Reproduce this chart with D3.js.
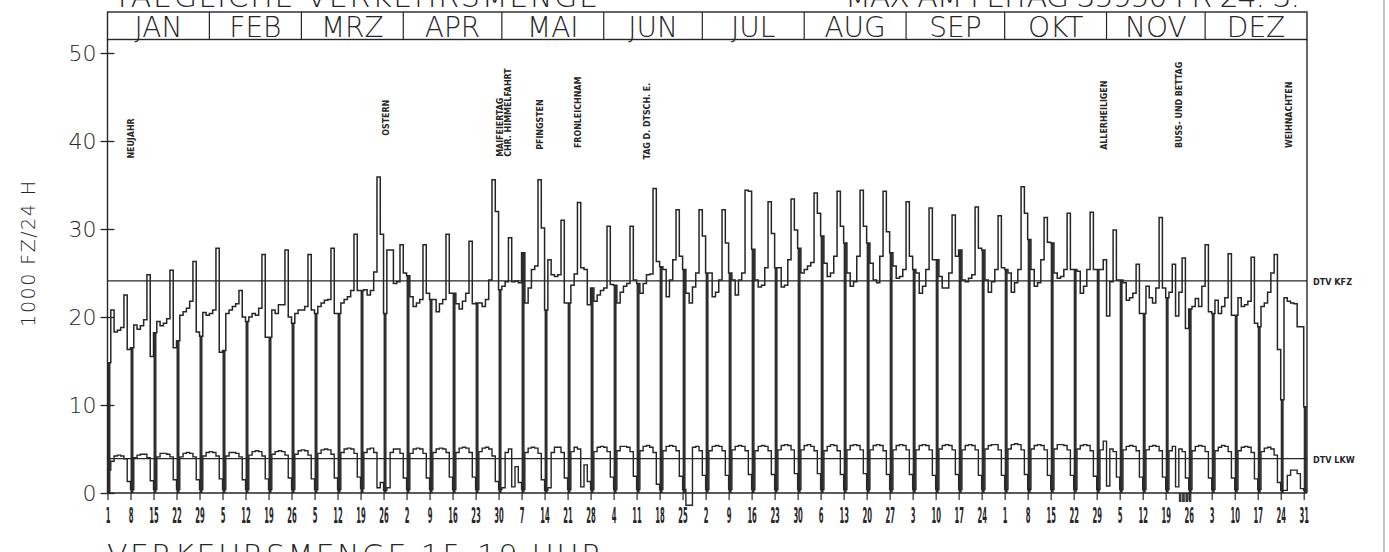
<!DOCTYPE html>
<html>
<head>
<meta charset="utf-8">
<script src="https://cdn.jsdelivr.net/npm/d3@7"></script>
<style>
body { margin: 0; background: #fff; }
svg { display: block; }
</style>
</head>
<body>
<svg id="chart" width="1389" height="552"></svg>
<script>
// daily traffic 1989, weeks start on sunday: [SO, MO, DI, MI, DO, FR, SA]
var kfzWeeks = [
    [14.8, 20.8, 18.3, 18.5, 18.8, 22.5, 16.3],
    [16.5, 19.1, 18.6, 19.0, 19.7, 24.8, 15.5],
    [18.2, 19.5, 19.0, 19.3, 19.8, 25.3, 16.5],
    [17.3, 20.2, 20.6, 21.0, 21.8, 26.3, 18.3],
    [17.8, 20.5, 20.2, 20.4, 20.8, 27.8, 16.0],
    [16.2, 20.4, 20.8, 21.2, 21.5, 23.0, 20.0],
    [19.5, 20.0, 20.4, 20.2, 21.0, 27.1, 17.7],
    [17.7, 20.8, 20.4, 21.4, 21.4, 27.6, 20.0],
    [19.3, 20.4, 20.8, 20.8, 21.2, 27.1, 20.8],
    [20.4, 21.2, 21.6, 21.9, 22.0, 27.8, 20.4],
    [20.4, 21.6, 22.0, 22.3, 23.0, 29.4, 23.0],
    [23.0, 23.1, 22.5, 23.0, 25.1, 35.9, 29.4],
    [20.4, 27.6, 27.6, 23.8, 24.0, 28.2, 25.0],
    [24.7, 22.3, 21.2, 21.6, 22.0, 28.2, 22.7],
    [22.0, 22.0, 20.6, 21.5, 22.0, 29.4, 22.7],
    [22.7, 21.5, 20.9, 21.8, 22.7, 28.6, 21.5],
    [21.6, 21.6, 21.2, 22.0, 24.2, 35.6, 32.0],
    [23.1, 23.5, 24.0, 29.0, 24.0, 24.1, 23.9],
    [27.3, 21.6, 23.3, 25.4, 25.8, 35.6, 30.1],
    [20.8, 26.5, 24.8, 24.6, 24.8, 31.0, 21.6],
    [21.6, 23.6, 24.9, 33.0, 25.6, 25.4, 21.4],
    [23.3, 21.8, 22.5, 23.0, 23.3, 30.3, 23.7],
    [23.6, 21.6, 22.8, 23.5, 23.8, 30.3, 24.2],
    [23.8, 22.7, 23.8, 24.8, 24.9, 34.6, 26.3],
    [25.7, 25.4, 22.3, 24.2, 26.5, 32.2, 26.9],
    [25.4, 22.7, 21.6, 23.4, 25.0, 32.2, 29.2],
    [25.0, 25.0, 22.3, 22.8, 24.2, 32.2, 28.4],
    [25.0, 24.2, 22.5, 24.2, 25.0, 34.4, 34.3],
    [27.7, 24.2, 23.4, 23.6, 25.6, 33.1, 29.5],
    [25.6, 25.6, 23.4, 23.6, 26.5, 33.4, 29.9],
    [27.8, 25.0, 25.4, 25.8, 26.2, 34.1, 31.8],
    [29.2, 26.1, 24.6, 25.0, 26.9, 34.3, 30.3],
    [28.4, 25.0, 23.5, 24.0, 26.9, 34.4, 30.3],
    [28.4, 26.1, 24.2, 23.9, 26.9, 34.3, 29.7],
    [27.3, 25.8, 24.4, 24.6, 25.4, 33.1, 26.9],
    [25.4, 25.0, 22.7, 23.5, 25.4, 32.4, 26.5],
    [26.5, 24.6, 23.3, 23.3, 25.0, 31.6, 26.9],
    [27.6, 24.2, 24.0, 24.4, 24.8, 32.5, 27.8],
    [27.6, 24.2, 22.8, 24.0, 25.4, 31.5, 25.6],
    [25.4, 25.0, 22.8, 23.9, 25.4, 34.8, 31.8],
    [28.8, 25.4, 23.5, 23.9, 26.5, 31.3, 28.5],
    [28.4, 25.0, 24.4, 24.6, 25.4, 31.8, 25.4],
    [25.4, 25.2, 22.7, 23.5, 25.4, 31.9, 25.4],
    [25.4, 25.4, 26.5, 20.1, 24.0, 29.9, 24.2],
    [24.2, 23.9, 21.9, 22.2, 22.7, 26.0, 20.4],
    [20.4, 23.5, 22.2, 21.6, 23.3, 31.3, 23.3],
    [22.2, 22.8, 26.0, 20.1, 22.8, 26.7, 18.7],
    [20.9, 21.2, 22.1, 21.2, 23.5, 28.2, 20.6],
    [20.4, 21.9, 20.4, 21.2, 22.2, 27.2, 20.2],
    [20.2, 22.2, 21.2, 21.4, 21.8, 26.8, 19.3],
    [18.9, 21.2, 21.6, 22.8, 25.0, 27.1, 16.3],
    [10.6, 22.2, 21.8, 21.6, 21.5, 18.9, 18.9],
    [9.8]
];

var lkwWeeks = [
    [2.6, 3.6, 4.2, 4.3, 4.2, 3.9, 1.3],
    [0.4, 4.0, 4.3, 4.4, 4.4, 4.0, 1.4],
    [0.4, 4.1, 4.5, 4.5, 4.4, 4.1, 1.5],
    [0.4, 4.1, 4.5, 4.6, 4.5, 4.1, 1.5],
    [0.4, 4.2, 4.6, 4.7, 4.6, 4.2, 1.6],
    [0.4, 4.2, 4.6, 4.6, 4.5, 4.1, 1.5],
    [0.4, 4.3, 4.7, 4.8, 4.7, 4.2, 1.6],
    [0.4, 4.4, 4.7, 4.8, 4.7, 4.3, 1.7],
    [0.4, 4.4, 4.8, 4.9, 4.8, 4.3, 1.6],
    [0.4, 4.5, 4.9, 5.0, 4.9, 4.4, 1.7],
    [0.4, 4.6, 5.0, 5.1, 5.0, 4.5, 1.8],
    [0.5, 4.6, 5.0, 5.1, 4.6, 0.6, 1.2],
    [0.3, 0.6, 4.6, 5.0, 5.0, 4.5, 1.7],
    [0.4, 4.5, 5.0, 5.1, 5.0, 4.5, 1.7],
    [0.4, 4.6, 5.0, 5.1, 5.0, 4.6, 1.8],
    [0.4, 4.6, 5.1, 5.2, 5.1, 4.6, 1.8],
    [0.4, 4.7, 5.1, 5.2, 5.0, 4.2, 1.3],
    [0.4, 0.6, 4.6, 5.0, 0.7, 3.0, 1.2],
    [0.4, 4.6, 5.1, 5.2, 5.1, 4.5, 1.5],
    [0.3, 0.6, 4.6, 5.2, 5.2, 4.6, 1.7],
    [0.4, 4.7, 5.2, 5.0, 0.7, 3.2, 1.3],
    [0.4, 4.7, 5.2, 5.3, 5.2, 4.7, 1.8],
    [0.4, 4.8, 5.3, 5.3, 5.2, 4.7, 1.9],
    [0.4, 4.8, 5.3, 5.4, 5.2, 4.6, 1.0],
    [0.4, 4.8, 5.3, 5.4, 5.3, 4.8, 1.9],
    [0.4, -1.4, -1.4, 5.2, 5.3, 4.8, 2.0],
    [0.4, 4.8, 5.3, 5.4, 5.3, 4.8, 2.0],
    [0.4, 4.9, 5.3, 5.4, 5.3, 4.8, 2.1],
    [0.4, 4.8, 5.3, 5.4, 5.3, 4.8, 2.1],
    [0.4, 4.9, 5.4, 5.5, 5.4, 4.9, 2.2],
    [0.4, 4.9, 5.4, 5.5, 5.3, 4.8, 2.2],
    [0.4, 4.8, 5.3, 5.5, 5.4, 4.8, 2.1],
    [0.4, 4.9, 5.4, 5.5, 5.4, 4.9, 2.2],
    [0.4, 4.9, 5.4, 5.5, 5.4, 4.8, 2.1],
    [0.4, 4.9, 5.4, 5.5, 5.4, 4.9, 2.1],
    [0.4, 4.9, 5.4, 5.5, 5.4, 4.9, 2.0],
    [0.4, 5.0, 5.4, 5.5, 5.4, 4.9, 2.1],
    [0.4, 4.9, 5.4, 5.5, 5.4, 4.9, 2.0],
    [0.4, 5.0, 5.4, 5.5, 5.5, 4.9, 2.0],
    [0.4, 5.0, 5.5, 5.6, 5.5, 4.9, 2.1],
    [0.4, 5.0, 5.4, 5.5, 5.4, 4.9, 2.0],
    [0.4, 5.0, 5.5, 5.5, 5.4, 4.9, 2.0],
    [0.4, 5.0, 5.4, 5.5, 5.4, 4.8, 1.9],
    [0.4, 4.9, 5.9, 0.8, 5.0, 4.7, 1.8],
    [0.4, 4.9, 5.3, 5.4, 5.3, 4.8, 1.8],
    [0.4, 4.9, 5.3, 5.4, 5.3, 4.8, 1.8],
    [0.4, 4.8, 5.3, 0.7, 5.0, 4.7, 1.7],
    [0.4, 4.8, 5.3, 5.4, 5.3, 4.7, 1.7],
    [0.4, 4.8, 5.2, 5.4, 5.3, 4.7, 1.7],
    [0.4, 4.8, 5.2, 5.3, 5.2, 4.6, 1.6],
    [0.4, 4.7, 5.1, 5.2, 5.0, 4.3, 1.2],
    [0.3, 0.3, 2.0, 2.6, 2.6, 2.2, 0.5],
    [0.3]
];

var dtvKfz = 24.1;
var dtvLkw = 3.9;

var months = ["JAN", "FEB", "MRZ", "APR", "MAI", "JUN", "JUL", "AUG", "SEP", "OKT", "NOV", "DEZ"];
var monthStarts = [0, 31, 59, 90, 120, 151, 181, 212, 243, 273, 304, 334, 365];

// sundays, one label each
var tickLabels = ["1", "8", "15", "22", "29", "5", "12", "19", "26", "5", "12", "19", "26",
    "2", "9", "16", "23", "30", "7", "14", "21", "28", "4", "11", "18", "25",
    "2", "9", "16", "23", "30", "6", "13", "20", "27", "3", "10", "17", "24",
    "1", "8", "15", "22", "29", "5", "12", "19", "26", "3", "10", "17", "24", "31"];

var holidayNames = ["NEUJAHR", "OSTERN", "MAIFEIERTAG", "CHR. HIMMELFAHRT", "PFINGSTEN",
    "FRONLEICHNAM", "TAG D. DTSCH. E.", "ALLERHEILIGEN", "BUSS- UND BETTAG", "WEIHNACHTEN"];
var holidayDays = [7.2, 84.7, 119.4, 121.9, 131.6, 143.2, 164.2, 303.2, 326.1, 359.5];
var holidayBase = [38.0, 40.6, 38.2, 38.2, 39.0, 39.2, 37.9, 39.0, 39.2, 39.2];

var missingDays = [326, 327, 328, 329];

var kfz = d3.merge(kfzWeeks);
var lkw = d3.merge(lkwWeeks);

var svg = d3.select("#chart");
var ink = "#262626";
var thin = "'DejaVu Sans', 'Liberation Sans', sans-serif";
var narrow = "'DejaVu Sans Condensed', 'Liberation Sans Narrow', 'DejaVu Sans', sans-serif";

var x = d3.scaleLinear().domain([0, 365]).range([107.5, 1307]);
var y = d3.scaleLinear().domain([0, 50]).range([493, 53]);
var headTop = 12, headBottom = 39.5;

function steps(values) {
    var pts = values.map(function(v, i) { return [i, v]; });
    pts.push([values.length, values[values.length - 1]]);
    return pts;
}

function draw_frame() {
    var g = svg.append("g").attr("stroke", ink).attr("fill", "none");
    g.append("rect")
        .attr("x", x(0)).attr("y", headTop)
        .attr("width", x(365) - x(0)).attr("height", headBottom - headTop)
        .attr("stroke-width", 1.4);
    g.append("line").attr("x1", x(365)).attr("x2", x(365))
        .attr("y1", headBottom).attr("y2", y(0)).attr("stroke-width", 1.4);
    g.selectAll("line.month").data(monthStarts.slice(1, 12))
        .enter().append("line")
        .attr("class", "month")
        .attr("x1", function(d) { return x(d); }).attr("x2", function(d) { return x(d); })
        .attr("y1", headTop).attr("y2", headBottom)
        .attr("stroke-width", 1.2);
    svg.selectAll("text.month").data(months)
        .enter().append("text")
        .attr("class", "month")
        .attr("x", function(d, i) { return x((monthStarts[i] + monthStarts[i + 1]) / 2); })
        .attr("y", 37)
        .attr("text-anchor", "middle")
        .attr("font-family", thin).attr("font-weight", 200)
        .attr("font-size", 28).attr("fill", ink)
        .text(function(d) { return d; });
    // page edge of the scan
    svg.append("line").attr("x1", 1384).attr("x2", 1384).attr("y1", 0).attr("y2", 552)
        .attr("stroke", "#9a9a9a").attr("stroke-width", 1.2);
}

function draw_axes() {
    var ya = svg.append("g")
        .attr("transform", "translate(" + x(0) + ",0)")
        .call(d3.axisLeft(y).tickValues([0, 10, 20, 30, 40, 50]).tickSize(7).tickPadding(4));
    ya.select(".domain").attr("d", "M0," + headBottom + "V" + y(0)).attr("stroke", ink).attr("stroke-width", 1.4);
    ya.selectAll(".tick line").attr("stroke", ink).attr("stroke-width", 1.3).attr("x2", -7).attr("x1", 7);
    ya.selectAll(".tick text")
        .attr("font-family", thin).attr("font-weight", 200)
        .attr("font-size", 22).attr("fill", ink);

    var sundays = d3.range(0, 365, 7);
    var xa = svg.append("g")
        .attr("transform", "translate(0," + y(0) + ")")
        .call(d3.axisBottom(x).tickValues(sundays).tickSize(7).tickPadding(8)
              .tickFormat(function(d, i) { return tickLabels[i]; }));
    xa.select(".domain").attr("d", "M" + x(0) + ",0H" + x(365)).attr("stroke", ink).attr("stroke-width", 1.4);
    xa.selectAll(".tick line").attr("stroke", ink).attr("stroke-width", 1.2);
    xa.selectAll(".tick text")
        .attr("font-family", narrow).attr("font-weight", "bold")
        .attr("font-size", 21).attr("fill", ink)
        .attr("transform", "scale(0.36,1)");

    svg.append("text")
        .attr("transform", "translate(35,253) rotate(-90)")
        .attr("text-anchor", "middle")
        .attr("font-family", thin).attr("font-weight", 200)
        .attr("font-size", 19).attr("letter-spacing", 1.5).attr("fill", ink)
        .text("1000 FZ/24 H");
}

function draw_series() {
    var line = d3.line().curve(d3.curveStepAfter)
        .x(function(p) { return x(p[0]); })
        .y(function(p) { return y(p[1]); });

    // sunday columns
    svg.selectAll("rect.sunday").data(d3.range(0, 365, 7))
        .enter().append("rect")
        .attr("class", "sunday")
        .attr("x", function(d) { return x(d); })
        .attr("width", function(d) { return x(d + 1) - x(d) - 0.3; })
        .attr("y", function(d) { return y(kfz[d]); })
        .attr("height", function(d) { return y(0) - y(kfz[d]); })
        .attr("fill", "#2e2e2e");

    svg.append("path").datum(steps(kfz))
        .attr("d", line).attr("fill", "none")
        .attr("stroke", ink).attr("stroke-width", 1.5);
    svg.append("path").datum(steps(lkw))
        .attr("d", line).attr("fill", "none")
        .attr("stroke", ink).attr("stroke-width", 1.4);

    svg.selectAll("rect.missing").data(missingDays)
        .enter().append("rect")
        .attr("class", "missing")
        .attr("x", function(d) { return x(d); })
        .attr("width", function(d) { return x(d + 1) - x(d) - 0.6; })
        .attr("y", y(0)).attr("height", 9)
        .attr("fill", "#3a3a3a");

    var dtv = [[dtvKfz, "DTV KFZ"], [dtvLkw, "DTV LKW"]];
    svg.selectAll("line.dtv").data(dtv)
        .enter().append("line")
        .attr("class", "dtv")
        .attr("x1", x(0)).attr("x2", x(365))
        .attr("y1", function(d) { return y(d[0]); }).attr("y2", function(d) { return y(d[0]); })
        .attr("stroke", ink).attr("stroke-width", 1.2);
    svg.selectAll("text.dtv").data(dtv)
        .enter().append("text")
        .attr("class", "dtv")
        .attr("x", x(365) + 6).attr("y", function(d) { return y(d[0]) + 4; })
        .attr("font-family", narrow).attr("font-weight", "bold")
        .attr("font-size", 9).attr("fill", ink)
        .text(function(d) { return d[1]; });
}

function draw_holidays() {
    svg.selectAll("text.holiday").data(holidayNames)
        .enter().append("text")
        .attr("class", "holiday")
        .attr("transform", function(d, i) {
            return "translate(" + x(holidayDays[i]) + "," + y(holidayBase[i]) + ") rotate(-90)";
        })
        .attr("dy", "0.36em")
        .attr("font-family", narrow).attr("font-weight", "bold")
        .attr("font-size", 8.8).attr("fill", ink)
        .text(function(d) { return d; });
}

function draw_titles() {
    // the page is cut: only the lower part of these lines shows
    svg.append("text")
        .attr("x", 113).attr("y", 7)
        .attr("font-family", thin).attr("font-weight", 200)
        .attr("font-size", 30).attr("fill", ink)
        .attr("textLength", 485).attr("lengthAdjust", "spacing")
        .text("TAEGLICHE VERKEHRSMENGE");
    svg.append("text")
        .attr("x", 845).attr("y", 7)
        .attr("font-family", thin).attr("font-weight", 200)
        .attr("font-size", 30).attr("fill", ink)
        .attr("textLength", 455).attr("lengthAdjust", "spacing")
        .text("MAX AM FEITAG  35950 FR 24. 3.");
    svg.append("text")
        .attr("x", 107).attr("y", 566)
        .attr("font-family", thin).attr("font-weight", 200)
        .attr("font-size", 30).attr("fill", ink)
        .attr("textLength", 495).attr("lengthAdjust", "spacing")
        .text("VERKEHRSMENGE  15-19 UHR");
}

function main() {
    draw_frame();
    draw_series();
    draw_axes();
    draw_holidays();
    draw_titles();
}

main();
</script>
</body>
</html>
